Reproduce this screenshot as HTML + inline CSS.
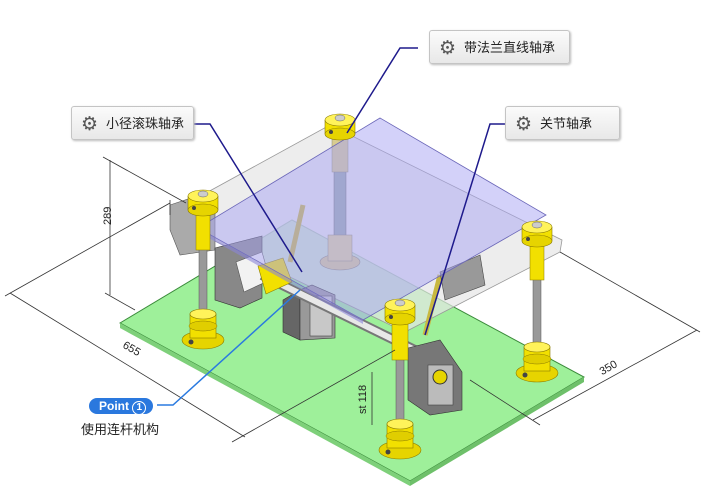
<!DOCTYPE html>
<html><head><meta charset="utf-8"><style>
body{margin:0;background:#fff;}
.wrap{position:relative;width:704px;height:492px;overflow:hidden;font-family:"Liberation Sans","Noto Sans CJK SC",sans-serif;}
.lbl{position:absolute;height:34px;border:1px solid #c4c4c4;border-radius:3px;background:linear-gradient(#fbfbfb,#e8e8e8);box-shadow:1px 1px 2px #bbb;font-size:13px;color:#222;line-height:34px;box-sizing:border-box;padding-left:34px;}
.lbl .g{position:absolute;left:9px;top:0;font-size:19px;color:#555;font-family:"DejaVu Sans",sans-serif;}
</style></head><body><div class="wrap">
<svg width="704" height="492" viewBox="0 0 704 492" style="position:absolute;left:0;top:0">
<defs>
<g id="cap"><rect x="-15" y="0" width="30" height="14" fill="#f2e000" stroke="#8a7a00" stroke-width=".6"/><ellipse cx="0" cy="14" rx="15" ry="6" fill="#e6d400" stroke="#8a7a00" stroke-width=".6"/><ellipse cx="0" cy="0" rx="15" ry="6" fill="#fff35a" stroke="#8a7a00" stroke-width=".6"/><ellipse cx="0" cy="-2" rx="5" ry="3" fill="#ccc" stroke="#666" stroke-width=".5"/><circle cx="-9" cy="12" r="2" fill="#444"/></g>
<g id="base"><ellipse cx="0" cy="26" rx="21" ry="9" fill="#e6d400" stroke="#8a7a00" stroke-width=".6"/><rect x="-13" y="0" width="26" height="24" fill="#f2e000" stroke="#8a7a00" stroke-width=".6"/><ellipse cx="0" cy="12" rx="14" ry="5" fill="#e0ce00" stroke="#8a7a00" stroke-width=".5"/><ellipse cx="0" cy="0" rx="13" ry="5" fill="#fff35a" stroke="#8a7a00" stroke-width=".6"/><circle cx="-12" cy="28" r="2.5" fill="#444"/></g>
</defs>
<!-- green plate -->
<polygon points="120,323 292,220 584,377 410,481" fill="#9ef09a" stroke="#3a8a3a" stroke-width="1"/>
<polygon points="120,323 410,481 410,486 120,328" fill="#7ed07a"/>
<polygon points="410,481 584,377 584,382 410,486" fill="#6ec06a"/>
<!-- grey back plate -->
<polygon points="175,210 330,125 562,240 560,252 405,332 175,222" fill="#e6e6e6" fill-opacity=".7" stroke="#999" stroke-width=".8"/>
<!-- back post -->
<rect x="334" y="170" width="12" height="70" fill="#9aa" stroke="#666" stroke-width=".5"/>
<rect x="332" y="138" width="16" height="34" fill="#d8cc90" stroke="#887" stroke-width=".5"/>
<ellipse cx="340" cy="262" rx="20" ry="8" fill="#d8cc90" stroke="#887" stroke-width=".6"/>
<rect x="328" y="235" width="24" height="26" fill="#e0d49a" stroke="#887" stroke-width=".5"/>
<!-- motor/bracket -->
<polygon points="170,205 200,195 215,212 215,250 180,255 170,230" fill="#aaa" stroke="#555" stroke-width=".6"/>
<polygon points="215,248 262,236 262,298 240,308 215,300" fill="#888" stroke="#333" stroke-width=".6"/>
<polygon points="236,262 262,252 270,280 244,292" fill="#f2f2f2" stroke="#555" stroke-width=".6"/>
<!-- link rods -->
<line x1="303" y1="205" x2="290" y2="262" stroke="#c8b840" stroke-width="5"/>
<line x1="440" y1="275" x2="425" y2="335" stroke="#c8b840" stroke-width="5"/>
<polygon points="440,272 480,255 485,285 445,300" fill="#999" stroke="#444" stroke-width=".6"/>
<!-- pillow block A -->
<polygon points="283,300 300,290 300,340 283,332" fill="#666" stroke="#333" stroke-width=".6"/>
<polygon points="300,290 312,285 335,295 335,338 300,340" fill="#999" stroke="#333" stroke-width=".6"/>
<rect x="310" y="296" width="22" height="40" fill="#c8c8c8" stroke="#444" stroke-width=".6"/>
<!-- shaft -->
<line x1="262" y1="275" x2="425" y2="355" stroke="#777" stroke-width="10"/>
<line x1="262" y1="275" x2="425" y2="355" stroke="#e8e8e8" stroke-width="6"/>
<!-- coupling -->
<polygon points="258,266 283,258 292,282 266,294" fill="#f2e000" stroke="#8a7a00" stroke-width=".6"/>
<!-- pillow block B -->
<polygon points="408,348 440,340 462,372 462,410 430,415 408,400" fill="#777" stroke="#333" stroke-width=".6"/>
<rect x="428" y="365" width="25" height="40" fill="#bbb" stroke="#444" stroke-width=".6"/>
<circle cx="440" cy="377" r="7" fill="#e6d400" stroke="#333"/>
<!-- purple plate -->
<polygon points="380,118 546,215 363,320 198,228" fill="#a8a4f4" fill-opacity=".5" stroke="#6a66b8" stroke-width=".8"/>
<polygon points="198,228 363,320 363,324 198,232" fill="#8a86d8" fill-opacity=".6"/>
<!-- back post cap -->
<use href="#cap" x="340" y="120"/>
<!-- left post -->
<rect x="199" y="248" width="8" height="66" fill="#999" stroke="#555" stroke-width=".5"/>
<rect x="196" y="211" width="14" height="39" fill="#f2e000" stroke="#8a7a00" stroke-width=".5"/>
<use href="#cap" x="203" y="196"/>
<use href="#base" x="203" y="314"/>
<!-- right post -->
<rect x="533" y="278" width="8" height="68" fill="#999" stroke="#555" stroke-width=".5"/>
<rect x="530" y="242" width="14" height="38" fill="#f2e000" stroke="#8a7a00" stroke-width=".5"/>
<use href="#cap" x="537" y="227"/>
<use href="#base" x="537" y="347"/>
<!-- front post -->
<rect x="396" y="358" width="8" height="66" fill="#999" stroke="#555" stroke-width=".5"/>
<rect x="392" y="320" width="16" height="40" fill="#f2e000" stroke="#8a7a00" stroke-width=".5"/>
<use href="#cap" x="400" y="305"/>
<use href="#base" x="400" y="424"/>
<!-- dimension lines -->
<g stroke="#333" stroke-width=".8" fill="none">
<line x1="103" y1="157" x2="186" y2="203"/><line x1="105" y1="293" x2="135" y2="310"/>
<line x1="110" y1="160" x2="110" y2="295"/>
<line x1="5" y1="296" x2="170" y2="203"/><line x1="170" y1="200" x2="170" y2="215"/>
<line x1="10" y1="293" x2="245" y2="437"/><line x1="232" y1="442" x2="395" y2="350"/>
<line x1="560" y1="252" x2="700" y2="332"/><line x1="470" y1="380" x2="540" y2="425"/>
<line x1="533" y1="420" x2="697" y2="330"/>
<line x1="372" y1="372" x2="372" y2="425"/>
</g>
<!-- leaders -->
<g stroke="#1e1a8c" stroke-width="1.5" fill="none">
<polyline points="418,48 400,48 347,133"/>
<polyline points="193,124 210,124 302,272"/>
<polyline points="505,124 490,124 425,335"/>
</g>
<polyline points="157,405 173,405 300,290" stroke="#2a7ae0" stroke-width="1.5" fill="none"/>
<text x="104" y="232" font-size="11" fill="#222" transform="rotate(-90 104 225)" font-family="Liberation Sans">289</text>
<text x="122" y="353" font-size="11" fill="#222" transform="rotate(30 133 350)" font-family="Liberation Sans">655</text>
<text x="598" y="370" font-size="11" fill="#222" transform="rotate(-30 610 365)" font-family="Liberation Sans">350</text>
<text x="346" y="402" font-size="11" fill="#222" transform="rotate(-90 362 398)" font-family="Liberation Sans">st 118</text>
</svg>
<div class="lbl" style="left:429px;top:30px;width:141px"><span class="g">⚙</span>带法兰直线轴承</div>
<div class="lbl" style="left:71px;top:106px;width:123px"><span class="g">⚙</span>小径滚珠轴承</div>
<div class="lbl" style="left:505px;top:106px;width:115px"><span class="g">⚙</span>关节轴承</div>
<div style="position:absolute;left:89px;top:398px;width:64px;height:16px;border-radius:8px;background:#2a78de;color:#fff;font-size:12px;font-weight:bold;line-height:16px;padding-left:10px;box-sizing:border-box">Point <span style="display:inline-block;width:12px;height:12px;border:1px solid #fff;border-radius:50%;text-align:center;line-height:12px;font-size:10px">1</span></div>
<div style="position:absolute;left:81px;top:419px;font-size:13px;color:#222">使用连杆机构</div>
</div></body></html>
